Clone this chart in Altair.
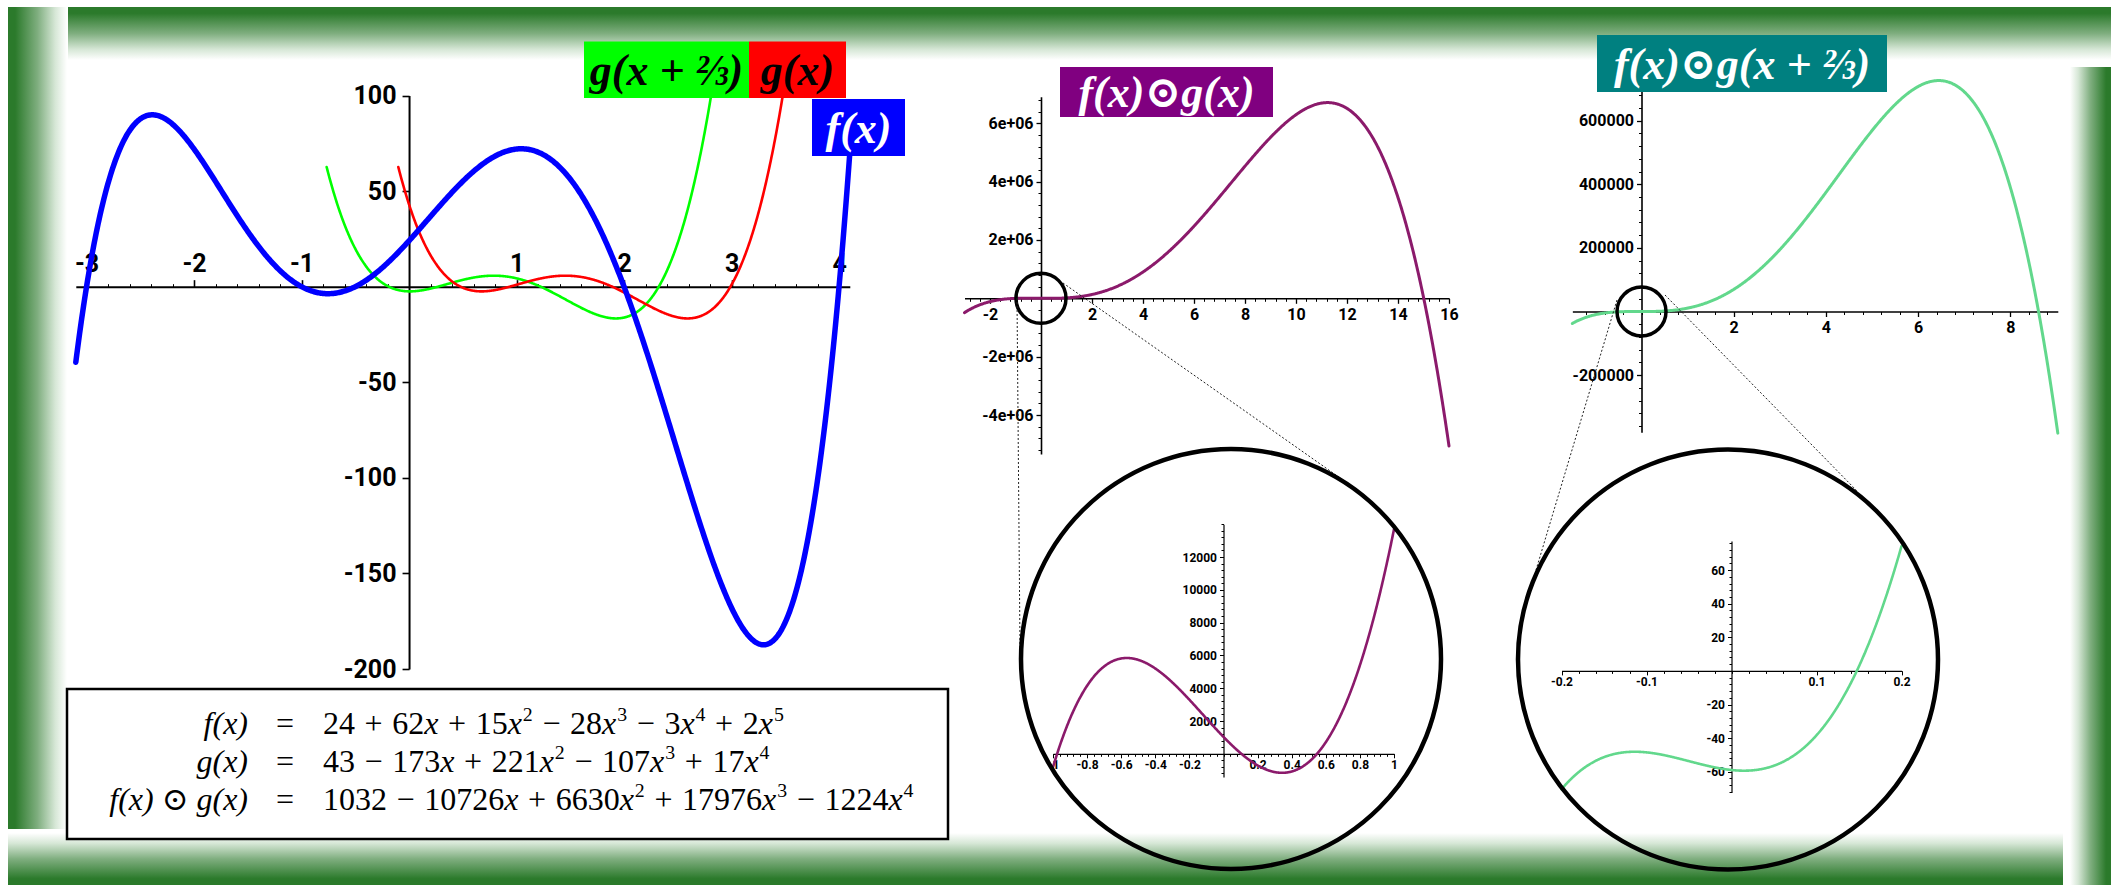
import re
from math import comb, factorial

import altair as alt
import numpy as np
import pandas as pd

W, H = 2111, 885

# ---------------- data ----------------
# polynomial coefficients, constant term first
F_COEF = [24, 62, 15, -28, -3, 2]              # f(x)
G_COEF = [43, -173, 221, -107, 17]             # g(x)
FG_COEF = [1032, -10726, 6630, 17976, -1224]   # f(x) ⊙ g(x)
SHIFT = 2 / 3                                  # g(x + 2/3)

# plotted x-intervals of each curve
F_SPAN = [-3.1, 4.1]
G_SPAN = [-0.1, 3.6]
GS_SPAN = [-0.1 - SHIFT, 3.6 - SHIFT]
FG_SPAN = [-3, 16]
FGS_SPAN = [-1.5, 9.03]
FG_ZOOM_SPAN = [-1, 1]
FGS_ZOOM_SPAN = [-0.2, 0.2]
TOP_CUT = 100

# tick labels
P1_XTICKS = [-3, -2, -1, 1, 2, 3, 4]
P1_YTICKS = [100, 50, -50, -100, -150, -200]
P2_XTICKS = [-2, 2, 4, 6, 8, 10, 12, 14, 16]
P2_YTICKS = [6e6, 4e6, 2e6, -2e6, -4e6]
P3_XTICKS = [2, 4, 6, 8]
P3_YTICKS = [600000, 400000, 200000, -200000]
Z2_XTICKS = [-1, -0.8, -0.6, -0.4, -0.2, 0.2, 0.4, 0.6, 0.8, 1]
Z2_YTICKS = [2000, 4000, 6000, 8000, 10000, 12000]
Z3_XTICKS = [-0.2, -0.1, 0.1, 0.2]
Z3_YTICKS = [60, 40, 20, -20, -40, -60]

# equation table
EQ_LHS = ["f(x)", "g(x)", "f(x) ⊙ g(x)"]
EQ_RHS = [
    "24 + 62x + 15x^2 − 28x^3 − 3x^4 + 2x^5",
    "43 − 173x + 221x^2 − 107x^3 + 17x^4",
    "1032 − 10726x + 6630x^2 + 17976x^3 − 1224x^4",
]

# curve labels
LABELS = ["g(x + ⅔)", "g(x)", "f(x)", "f(x)⊙g(x)", "f(x)⊙g(x + ⅔)"]

# ---------------- styling / layout ----------------
TICK_FONT = "Roboto"
SERIF = "'Liberation Serif', 'Times New Roman', 'DejaVu Serif', serif"
DARK = "#2b7a2b"

PANELS = {
    "main": dict(xdom=[-3.1, 4.1], xr=[75.8, 849.8], ydom=[-200, 100], yr=[669, 95.5],
                 xorient="top", xt=P1_XTICKS, yt=P1_YTICKS, xm=0.2, ym=None,
                 fs=25, dw=2, tw=1.6, ts=7, ms=3, xpad=3, ypad=6, ylab=None),
    "prod": dict(xdom=[-3, 16], xr=[964.5, 1449], ydom=[-5.34e6, 6.91e6], yr=[454.1, 96.7],
                 xorient="bottom", xt=P2_XTICKS, yt=P2_YTICKS, xm=0.4, ym=0.4e6,
                 fs=16, dw=1.6, tw=1.3, ts=5, ms=3, xpad=3, ypad=3,
                 ylab="(datum.value / 1000000) + 'e+06'"),
    "prod_shift": dict(xdom=[-1.5, 9.03], xr=[1572.35, 2057.8], ydom=[-380000, 726000],
                       yr=[432.3, 80.7], xorient="bottom", xt=P3_XTICKS, yt=P3_YTICKS,
                       xm=0.4, ym=40000, fs=16, dw=1.6, tw=1.3, ts=5, ms=3, xpad=3, ypad=3,
                       ylab=None),
    "zoom": dict(xdom=[-1, 1], xr=[1053, 1394], ydom=[-1420, 14000], yr=[777.1, 524.2],
                 xorient="bottom", xt=Z2_XTICKS, yt=Z2_YTICKS, xm=0.04, ym=400,
                 fs=12, dw=1.2, tw=1, ts=4, ms=2.5, xpad=2, ypad=3, ylab=None),
    "zoom_shift": dict(xdom=[-0.2, 0.2], xr=[1561.5, 1901.5], ydom=[-72.4, 77.3],
                       yr=[792.6, 541.0], xorient="bottom", xt=Z3_XTICKS, yt=Z3_YTICKS,
                       xm=0.02, ym=4, fs=12, dw=1.2, tw=1, ts=4, ms=2.5, xpad=2, ypad=3,
                       ylab=None),
}


def lin(v, dom, rng):
    return rng[0] + (v - dom[0]) / (dom[1] - dom[0]) * (rng[1] - rng[0])


def poly(coef, x):
    return sum(c * x ** k for k, c in enumerate(coef))


def shifted(coef, h):
    """Coefficients of p(x + h)."""
    n = len(coef)
    return [sum(coef[j] * comb(j, k) * h ** (j - k) for j in range(k, n)) for k in range(n)]


def odot(a, b):
    """Coefficient-wise product weighted by k!."""
    return [factorial(k) * a[k] * b[k] for k in range(min(len(a), len(b)))]


FGS_COEF = odot(F_COEF, shifted(G_COEF, SHIFT))


def sample(fn, span, n=800, top=None):
    xs = np.linspace(span[0], span[1], n)
    df = pd.DataFrame({"x": xs, "y": fn(xs)})
    if top is not None:
        df = df[df["y"] <= top]
    return df


f_df = sample(lambda x: poly(F_COEF, x), F_SPAN)
g_df = sample(lambda x: poly(G_COEF, x), G_SPAN, top=TOP_CUT)
gs_df = sample(lambda x: poly(G_COEF, x + SHIFT), GS_SPAN, top=TOP_CUT)
fg_df = sample(lambda x: poly(FG_COEF, x), FG_SPAN)
fgs_df = sample(lambda x: poly(FGS_COEF, x), FGS_SPAN)
fgz_df = sample(lambda x: poly(FG_COEF, x), FG_ZOOM_SPAN)
fgsz_df = sample(lambda x: poly(FGS_COEF, x), FGS_ZOOM_SPAN)


def minor_values(dom, step):
    start = np.ceil(dom[0] / step) * step
    return [round(float(v), 6) for v in np.arange(start, dom[1] + step * 1e-6, step)]


def origin(p):
    return lin(0, p["xdom"], p["xr"]), lin(0, p["ydom"], p["yr"])


def scales(p):
    sx = alt.Scale(domain=p["xdom"], range=p["xr"], nice=False, zero=False)
    sy = alt.Scale(domain=p["ydom"], range=p["yr"], nice=False, zero=False)
    return sx, sy


def x_offset(p):
    _, y0 = origin(p)
    return -y0 if p["xorient"] == "top" else y0 - H


def major_axes(p):
    x0, _ = origin(p)
    common = dict(title=None, grid=False, domainColor="black", domainWidth=p["dw"],
                  tickColor="black", tickWidth=p["tw"], tickSize=p["ts"],
                  labelFont=TICK_FONT, labelFontWeight="bold", labelFontSize=p["fs"],
                  labelColor="black", labelOverlap=False, labelFlush=False, labelBound=False)
    ax = alt.Axis(orient=p["xorient"], offset=x_offset(p), values=p["xt"],
                  labelPadding=p["xpad"], labelExpr="'' + datum.value", **common)
    ay = alt.Axis(orient="left", offset=-x0, values=p["yt"], labelPadding=p["ypad"],
                  labelExpr=p["ylab"] or "'' + datum.value", **common)
    return ax, ay


def minor_axes(p):
    x0, _ = origin(p)
    common = dict(title=None, grid=False, labels=False, domain=False, tickColor="black",
                  tickWidth=1, tickSize=p["ms"])
    ax = alt.Axis(orient=p["xorient"], offset=x_offset(p),
                  values=minor_values(p["xdom"], p["xm"]), **common)
    ay = None
    if p["ym"]:
        ay = alt.Axis(orient="left", offset=-x0, values=minor_values(p["ydom"], p["ym"]), **common)
    return ax, ay


def curve(df, p, color, width, axes=None):
    sx, sy = scales(p)
    ax, ay = axes if axes else (None, None)
    return alt.Chart(df).mark_line(color=color, strokeWidth=width, strokeCap="round",
                                   strokeJoin="round").encode(
        x=alt.X("x:Q", scale=sx, axis=ax),
        y=alt.Y("y:Q", scale=sy, axis=ay),
    )


def minor_layer(df, p):
    sx, sy = scales(p)
    ax, ay = minor_axes(p)
    return alt.Chart(df).mark_line(strokeOpacity=0).encode(
        x=alt.X("x:Q", scale=sx, axis=ax),
        y=alt.Y("y:Q", scale=sy, axis=ay),
    )


def origin_ring(p, radius):
    sx, sy = scales(p)
    return alt.Chart(pd.DataFrame({"x": [0], "y": [0]})).mark_point(
        shape="circle", filled=False, color="black", strokeWidth=3.5, opacity=1,
        size=(2 * radius) ** 2,
    ).encode(x=alt.X("x:Q", scale=sx, axis=None), y=alt.Y("y:Q", scale=sy, axis=None))


# ---------------- decorations ----------------
FADE = [(0, DARK), (0.12, DARK), (0.5, "#7fae7f"), (0.8, "#d6e7d6"), (1, "#ffffff")]


def fade(x1, y1, x2, y2):
    return alt.LinearGradient(
        gradient="linear", x1=x1, y1=y1, x2=x2, y2=y2,
        stops=[alt.GradientStop(offset=o, color=c) for o, c in FADE],
    )


ONE = pd.DataFrame({"k": [0]})


def band(x, x2, y, y2, grad):
    return alt.Chart(ONE).mark_rect(color=grad).encode(
        x=alt.value(x), x2=alt.value(x2), y=alt.value(y), y2=alt.value(y2))


bands = [
    band(68, W, 7, 60, fade(0, 0, 0, 1)),          # top
    band(8, 67, 7, 829, fade(0, 0, 1, 0)),         # left
    band(8, 2063, 833, H, fade(0, 1, 0, 0)),       # bottom
    band(2070, W, 67, H, fade(1, 0, 0, 0)),        # right
]

# label boxes for the curves
box_df = pd.DataFrame({
    "x": [584, 749, 812, 1060, 1597],
    "x2": [749, 846, 905, 1273, 1887],
    "y": [41.5, 41.5, 99, 67, 35],
    "y2": [98, 98, 156, 117, 92],
    "fill": ["#00ff00", "#ff0000", "#0000ff", "#800080", "#008080"],
    "ink": ["#000000", "#000000", "#ffffff", "#ffffff", "#ffffff"],
    "label": LABELS,
})
box_df["cx"] = (box_df["x"] + box_df["x2"]) / 2
box_df["cy"] = (box_df["y"] + box_df["y2"]) / 2 + 2

boxes = alt.Chart(box_df).mark_rect().encode(
    x=alt.X("x:Q", scale=None, axis=None), x2="x2:Q",
    y=alt.Y("y:Q", scale=None, axis=None), y2="y2:Q",
    color=alt.Color("fill:N", scale=None),
)
box_text = alt.Chart(box_df).mark_text(
    font=SERIF, fontSize=44, fontWeight="bold", fontStyle="italic",
    align="center", baseline="middle",
).encode(
    x=alt.X("cx:Q", scale=None, axis=None), y=alt.Y("cy:Q", scale=None, axis=None),
    text="label:N", color=alt.Color("ink:N", scale=None),
)

# magnifier rings and their dotted guide lines
rings_df = pd.DataFrame({"cx": [1231, 1728], "cy": [659, 659.5]})
big_rings = alt.Chart(rings_df).mark_point(
    shape="circle", filled=False, color="black", strokeWidth=4.5, opacity=1, size=420 ** 2,
).encode(x=alt.X("cx:Q", scale=None, axis=None), y=alt.Y("cy:Q", scale=None, axis=None))

guides_df = pd.DataFrame({
    "x": [1017, 1063, 1617, 1665], "y": [298, 283, 300, 295],
    "x2": [1020, 1343, 1536, 1858], "y2": [648, 480, 570, 492],
})
guides = alt.Chart(guides_df).mark_rule(color="#222222", strokeWidth=1, strokeDash=[2, 2]).encode(
    x=alt.X("x:Q", scale=None, axis=None), y=alt.Y("y:Q", scale=None, axis=None),
    x2="x2:Q", y2="y2:Q",
)

# ---------------- equation table ----------------
EQ_FS = 32
EQ_BASE = [734, 772, 810]
LHS_RIGHT, EQ_SIGN_X, RHS_LEFT = 248, 285, 323
UP_W = {**{d: 0.5 for d in "0123456789"}, "+": 0.564, "−": 0.564}
X_W, OP_GAP, SUP_SCALE = 0.444, 0.3, 0.62

pieces = {"up": [], "it": [], "sup": []}
for base, rhs in zip(EQ_BASE, EQ_RHS):
    cur = RHS_LEFT
    for tok in rhs.split(" "):
        if tok in ("+", "−"):
            cur += OP_GAP * EQ_FS
            pieces["up"].append((cur, base, tok))
            cur += (UP_W[tok] + OP_GAP) * EQ_FS
            continue
        coef, var, exp = re.fullmatch(r"(\d*)(x?)(?:\^(\d))?", tok).groups()
        if coef:
            pieces["up"].append((cur, base, coef))
            cur += sum(UP_W[c] for c in coef) * EQ_FS
        if var:
            pieces["it"].append((cur, base, "x"))
            cur += X_W * EQ_FS
        if exp:
            cur += 0.03 * EQ_FS
            pieces["sup"].append((cur, base - 0.4 * EQ_FS, exp))
            cur += 0.5 * SUP_SCALE * EQ_FS


def text_layer(rows, size, style="normal", align="left"):
    df = pd.DataFrame(rows, columns=["px", "py", "t"])
    return alt.Chart(df).mark_text(
        font=SERIF, fontSize=size, fontStyle=style, align=align, baseline="alphabetic",
        color="black",
    ).encode(x=alt.X("px:Q", scale=None, axis=None), y=alt.Y("py:Q", scale=None, axis=None),
             text="t:N")


eq_box = alt.Chart(ONE).mark_rect(fill="white", stroke="black", strokeWidth=2.5).encode(
    x=alt.value(67), x2=alt.value(948), y=alt.value(689), y2=alt.value(839))

eq_layers = [
    eq_box,
    text_layer([(LHS_RIGHT, b, s) for b, s in zip(EQ_BASE, EQ_LHS)], EQ_FS, "italic", "right"),
    text_layer([(EQ_SIGN_X, b, "=") for b in EQ_BASE], EQ_FS, "normal", "center"),
    text_layer(pieces["up"], EQ_FS),
    text_layer(pieces["it"], EQ_FS, "italic"),
    text_layer(pieces["sup"], EQ_FS * SUP_SCALE),
]

# ---------------- assemble ----------------
P = PANELS
layers = (
    bands
    + [
        minor_layer(f_df, P["main"]),
        curve(gs_df, P["main"], "#00ff00", 2.6),
        curve(g_df, P["main"], "#ff0000", 2.6),
        curve(f_df, P["main"], "#0000ff", 5.5, major_axes(P["main"])),
        minor_layer(fg_df, P["prod"]),
        curve(fg_df, P["prod"], "#8b1a6b", 3, major_axes(P["prod"])),
        minor_layer(fgs_df, P["prod_shift"]),
        curve(fgs_df, P["prod_shift"], "#62d88c", 3, major_axes(P["prod_shift"])),
        minor_layer(fgz_df, P["zoom"]),
        curve(fgz_df, P["zoom"], "#8b1a6b", 2.6, major_axes(P["zoom"])),
        minor_layer(fgsz_df, P["zoom_shift"]),
        curve(fgsz_df, P["zoom_shift"], "#62d88c", 2.6, major_axes(P["zoom_shift"])),
        origin_ring(P["prod"], 25),
        origin_ring(P["prod_shift"], 24.5),
        guides,
        big_rings,
    ]
    + eq_layers
    + [boxes, box_text]
)

chart = (
    alt.layer(*layers)
    .resolve_scale(x="independent", y="independent")
    .properties(width=W, height=H, padding=0, autosize=alt.AutoSizeParams(type="none"),
                background="white")
    .configure_view(stroke="transparent")
)

chart.save("out.html", embed_options={"renderer": "svg", "actions": False})
